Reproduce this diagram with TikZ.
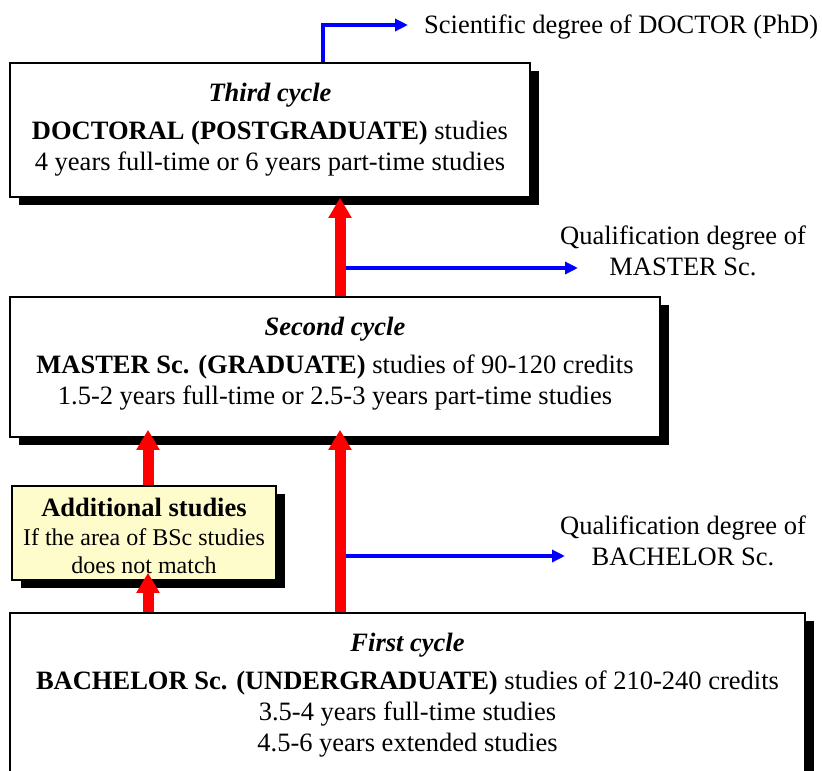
\documentclass[tikz,border=0pt]{standalone}
\usepackage{fontspec}
\setmainfont{Liberation Serif}
\usetikzlibrary{arrows.meta,shadows}

\begin{document}
\begin{tikzpicture}[x=1pt,y=-1pt,
    cyclebox/.style={draw,line width=1.6pt,fill=white,align=center,inner sep=0pt,
      drop shadow={shadow xshift=9pt,shadow yshift=-8pt,opacity=1,fill=black},
      font=\fontsize{26.5}{31}\selectfont},
    extrabox/.style={cyclebox,fill=yellow!20,font=\fontsize{24}{27.5}\selectfont},
    degree/.style={align=center,inner sep=0pt,font=\fontsize{26.5}{31}\selectfont},
    climb/.style={red,line width=11pt,-{Triangle[width=22pt,length=20pt]}},
    award/.style={blue,line width=4pt,-{Triangle[width=12pt,length=13pt]}}]
                \useasboundingbox (0,0) rectangle (822,771);
                \clip (0,0) rectangle (822,771);

                % Study cycles
                \node[cyclebox,minimum width=520pt,minimum height=134pt] (third) at (270,130)
                    {\textbf{\textit{Third cycle}}\\[7pt]
                     \textbf{DOCTORAL (POSTGRADUATE)} studies\\
                     4 years full-time or 6 years part-time studies\rule[-7pt]{0pt}{0pt}};
                \node[cyclebox,minimum width=650pt,minimum height=140pt] (second) at (335,367)
                    {\textbf{\textit{Second cycle}}\\[7pt]
                     \textbf{MASTER Sc. (GRADUATE)} studies of 90-120 credits\\
                     1.5-2 years full-time or 2.5-3 years part-time studies\rule[-12pt]{0pt}{0pt}};
                \node[extrabox,minimum width=264pt,minimum height=94pt] (extra) at (144,533)
                    {{\fontsize{26.5}{28}\selectfont\textbf{Additional studies}}\rule{0pt}{24pt}\\[1.5pt]
                     If the area of BSc studies\\
                     does not match};
                \node[cyclebox,minimum width=795pt,minimum height=174pt] (first) at (407.5,700)
                    {\textbf{\textit{First cycle}}\\[7pt]
                     \textbf{BACHELOR Sc. (UNDERGRADUATE)} studies of 210-240 credits\\
                     3.5-4 years full-time studies\\
                     4.5-6 years extended studies\rule[-16pt]{0pt}{0pt}};

                % Degrees
                \node[degree,anchor=base west] (phd) at (424,33) {Scientific degree of DOCTOR (PhD)};
                \node[degree] (msc) at (683,251) {Qualification degree of\\MASTER Sc.};
                \node[degree] (bsc) at (683,541) {Qualification degree of\\BACHELOR Sc.};

                % Blue arrows
                \coordinate (phdfoot) at (323,0);
                \coordinate (phdtip) at (408,25);
                \coordinate (mscfork) at (345,268);
                \coordinate (msctip) at (578,268);
                \coordinate (bscfork) at (345,556);
                \coordinate (bsctip) at (565,556);
                \draw[award] (third.north -| phdfoot) |- (phdtip);
                \draw[award] (mscfork) -- (msctip);
                \draw[award] (bscfork) -- (bsctip);

                % Red arrows
                \coordinate (spine) at (340,0);
                \coordinate (side) at (148,0);
                \draw[climb] (second.north -| spine) -- (third.south -| spine);
                \draw[climb,shorten >=-8pt] (first.north -| spine) -- (second.south -| spine);
                \draw[climb,shorten >=-8pt] (extra.north -| side) -- (second.south -| side);
                \draw[climb,shorten >=-8pt] (first.north -| side) -- (extra.south -| side);
            \end{tikzpicture}
\end{document}
